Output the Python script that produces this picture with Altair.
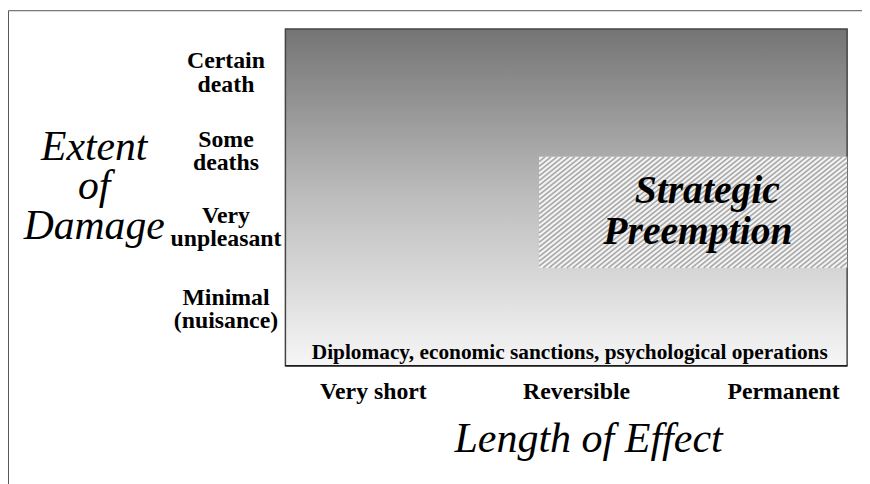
import altair as alt
import pandas as pd

# ---- content ----
damage_levels = ["Certain\ndeath", "Some\ndeaths", "Very\nunpleasant", "Minimal\n(nuisance)"]
damage_pos = [3.84, 2.85, 1.89, 0.86]
effect_lengths = ["Very short", "Reversible", "Permanent"]
effect_pos = [0.47, 1.555, 2.66]
y_title = "Extent\nof\nDamage"
x_title = "Length of Effect"
base_label = "Diplomacy, economic sanctions, psychological operations"
region_lines = ["Strategic", "Preemption"]
region_line_x = [2.253, 2.203]
region_line_y = [2.21, 1.69]
# region: x from between "Very short"/"Reversible" to end, y between levels
region_x = [1.355, 3.0]
region_y = [1.2375, 2.6375]

W, H = 567, 340
XMAX, YMAX = 3.0, 4.25
PX = W / XMAX   # px per x unit
PY = H / YMAX   # px per y unit

xs = alt.Scale(domain=[0, XMAX], nice=False, zero=False)
ys = alt.Scale(domain=[0, YMAX], nice=False, zero=False)

def X(f="x"):
    return alt.X(f"{f}:Q", scale=xs, axis=None)

def Y(f="y"):
    return alt.Y(f"{f}:Q", scale=ys, axis=None)

# outer frame (top and left edges)
fx, fy = -279.5 / PX, YMAX + 18.5 / PY
frame = alt.Chart(pd.DataFrame({
    "x": [fx, fx], "x2": [3.2, fx], "y": [fy, fy], "y2": [fy, -2.0]
})).mark_rule(color="#555555", strokeWidth=1).encode(x=X(), x2="x2:Q", y=Y(), y2="y2:Q")

# gradient background box
grad = alt.Chart(pd.DataFrame({"x": [0.0], "x2": [XMAX], "y": [0.0], "y2": [YMAX]})).mark_rect(
    fill=alt.Gradient(
        gradient="linear", x1=0, x2=0, y1=0, y2=1,
        stops=[alt.GradientStop(color="#747474", offset=0),
               alt.GradientStop(color="#bdbdbd", offset=0.5),
               alt.GradientStop(color="#f6f6f6", offset=1)],
    ),
    stroke="#444444", strokeWidth=1.5,
).encode(x=X(), x2="x2:Q", y=Y(), y2="y2:Q")

bottom_line = alt.Chart(pd.DataFrame({"x": [0.0], "x2": [XMAX], "y": [0.0]})).mark_rule(
    color="#000000", strokeWidth=1.5
).encode(x=X(), x2="x2:Q", y=Y())

# hatched region
region = alt.Chart(pd.DataFrame({"x": [region_x[0]], "x2": [region_x[1]], "y": [region_y[0]], "y2": [region_y[1]]})).mark_rect(
    fill="#f3f3f3"
).encode(x=X(), x2="x2:Q", y=Y(), y2="y2:Q")

# hatch decoration (pixel geometry converted to data units)
L, R = region_x[0] * PX, region_x[1] * PX
T, B = (YMAX - region_y[1]) * PY, (YMAX - region_y[0]) * PY
s = 0.8
hh = B - T
segs = []
c = L - hh / s
while c < R:
    sx = max(c, L)
    ex = min(c + hh / s, R)
    if ex > sx:
        sy = B - s * (sx - c)
        ey = B - s * (ex - c)
        segs.append({"x": sx / PX, "x2": ex / PX, "y": YMAX - sy / PY, "y2": YMAX - ey / PY})
    c += 6.0
hatch = alt.Chart(pd.DataFrame(segs)).mark_rule(color="#a8a8a8", strokeWidth=1.6).encode(
    x=X(), x2="x2:Q", y=Y(), y2="y2:Q"
)

serif = "Liberation Serif"

ylab = alt.Chart(pd.DataFrame({"t": damage_levels, "x": [-60 / PX] * 4, "y": damage_pos})).mark_text(
    font=serif, fontSize=24, fontWeight="bold", lineBreak="\n", lineHeight=23.5, align="center", baseline="middle", color="#000"
).encode(x=X(), y=Y(), text="t:N")

xlab = alt.Chart(pd.DataFrame({"t": effect_lengths, "x": effect_pos, "y": [-26 / PY] * 3})).mark_text(
    font=serif, fontSize=24, fontWeight="bold", align="center", baseline="middle", color="#000"
).encode(x=X(), y=Y(), text="t:N")

ytitle = alt.Chart(pd.DataFrame({"t": [y_title], "x": [-193 / PX], "y": [(367 - 146) / PY]})).mark_text(
    font=serif, fontSize=42, fontStyle="italic", lineBreak="\n", lineHeight=40, align="center", baseline="middle", color="#000"
).encode(x=X(), y=Y(), text="t:N")

xtitle = alt.Chart(pd.DataFrame({"t": [x_title], "x": [306 / PX], "y": [-74 / PY]})).mark_text(
    font=serif, fontSize=42.4, fontStyle="italic", align="center", baseline="middle", color="#000"
).encode(x=X(), y=Y(), text="t:N")

base = alt.Chart(pd.DataFrame({"t": [base_label], "x": [287 / PX], "y": [13 / PY]})).mark_text(
    font=serif, fontSize=21.5, fontWeight="bold", align="center", baseline="middle", color="#000"
).encode(x=X(), y=Y(), text="t:N")

rlab = alt.Chart(pd.DataFrame({"t": region_lines, "x": region_line_x, "y": region_line_y})).mark_text(
    font=serif, fontSize=40, fontWeight="bold", fontStyle="italic",
    align="center", baseline="middle", color="#000"
).encode(x=X(), y=Y(), text="t:N")

chart = alt.layer(frame, grad, bottom_line, region, hatch, ylab, xlab, ytitle, xtitle, base, rlab).properties(
    width=W, height=H,
    autosize=alt.AutoSizeParams(type="none"),
    padding={"left": 280, "top": 19, "right": 15, "bottom": 117},
    background="#ffffff",
).configure_view(stroke=None)

chart.save("out.html", embed_options={"renderer": "svg", "actions": False})
